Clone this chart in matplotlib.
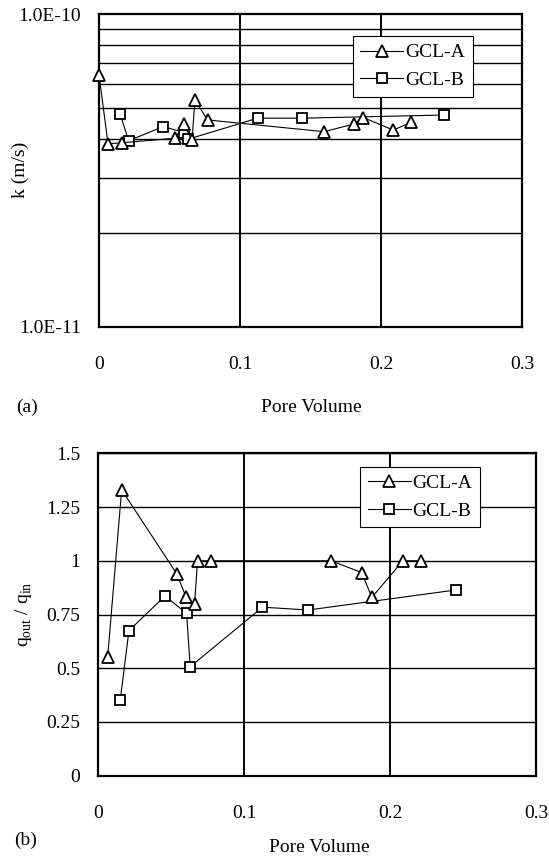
import matplotlib
matplotlib.use("Agg")
import matplotlib.pyplot as plt
from matplotlib.ticker import FixedLocator, NullFormatter

plt.rcParams['font.family'] = ['Liberation Serif', 'DejaVu Serif']
plt.rcParams['mathtext.fontset'] = 'custom'
plt.rcParams['mathtext.rm'] = 'Liberation Serif'

# GCL-A: pore volume, hydraulic conductivity, outflow/inflow ratio
a_pv = [0.0, 0.0064, 0.016, 0.054, 0.060, 0.066, 0.068, 0.077,
        0.1596, 0.1805, 0.1875, 0.2088, 0.2213]
a_k = [6.4e-11, 3.85e-11, 3.88e-11, 4.01e-11, 4.45e-11, 3.96e-11, 5.32e-11,
       4.59e-11, 4.21e-11, 4.45e-11, 4.67e-11, 4.26e-11, 4.51e-11]
a_pv_q = a_pv[1:]
a_q = [0.55, 1.33, 0.937, 0.833, 0.797, 1.0, 1.0, 1.0, 0.945, 0.83, 1.0, 1.0]

# GCL-B
b_pv = [0.015, 0.021, 0.0457, 0.0605, 0.063, 0.1125, 0.144, 0.245]
b_k = [4.8e-11, 3.94e-11, 4.37e-11, 4.18e-11, 3.98e-11, 4.65e-11, 4.65e-11, 4.76e-11]
b_q = [0.35, 0.675, 0.836, 0.756, 0.507, 0.784, 0.771, 0.864]

x_ticks = [0, 0.1, 0.2, 0.3]
x_ticklabels = ['0', '0.1', '0.2', '0.3']
q_ticks = [0, 0.25, 0.5, 0.75, 1, 1.25, 1.5]
q_ticklabels = ['0', '0.25', '0.5', '0.75', '1', '1.25', '1.5']

W, H = 549, 859
fig = plt.figure(figsize=(W / 100, H / 100), dpi=100)


def box(l, t, r, b):
    return [l / W, 1 - b / H, (r - l) / W, (b - t) / H]


ax1 = fig.add_axes(box(99, 14.3, 522, 326.7))
ax2 = fig.add_axes(box(98.3, 453.3, 536, 775.7))

style_a = dict(color='black', lw=0.8, marker='^', ms=8, mfc='white', mec='black',
               mew=1.3, clip_on=False)
style_b = dict(color='black', lw=0.8, marker='s', ms=6.5, mfc='white', mec='black',
               mew=1.3, clip_on=False)

# (a) hydraulic conductivity
ax1.set_yscale('log')
ax1.plot(a_pv, a_k, label='GCL-A', zorder=4, **style_a)
ax1.plot(b_pv, b_k, label='GCL-B', zorder=3, **style_b)
ax1.set_xlim(0, 0.3)
ax1.set_ylim(1e-11, 1e-10)
ax1.yaxis.set_major_locator(FixedLocator([1e-11, 1e-10]))
ax1.set_yticklabels(['1.0E-11', '1.0E-10'])
ax1.yaxis.set_minor_locator(FixedLocator([i * 1e-11 for i in range(2, 10)]))
ax1.yaxis.set_minor_formatter(NullFormatter())
ax1.grid(True, which='minor', axis='y', color='black', lw=1.0)

# (b) outflow / inflow
ax2.plot(a_pv_q, a_q, label='GCL-A', zorder=4, **style_a)
ax2.plot(b_pv, b_q, label='GCL-B', zorder=3, **style_b)
ax2.set_xlim(0, 0.3)
ax2.set_ylim(0, 1.5)
ax2.set_yticks(q_ticks)
ax2.set_yticklabels(q_ticklabels)
ax2.grid(True, which='major', axis='y', color='black', lw=1.0)

for ax in (ax1, ax2):
    ax.set_xticks(x_ticks)
    ax.set_xticklabels(x_ticklabels)
    ax.grid(True, which='major', axis='x', color='black', lw=1.4)
    ax.set_axisbelow(True)
    for s in ax.spines.values():
        s.set_linewidth(1.6)
    ax.tick_params(which='both', length=0, labelsize=14)
    ax.tick_params(axis='x', pad=21)
    ax.tick_params(axis='y', pad=13)

leg_kw = dict(loc='upper left', fontsize=14, frameon=True, fancybox=False,
              handlelength=2.2, handletextpad=0.1, borderpad=0.4,
              labelspacing=0.5, borderaxespad=0, framealpha=1)
l1 = ax1.legend(bbox_to_anchor=(0.5995, 0.9305), **leg_kw)
l2 = ax2.legend(bbox_to_anchor=(0.598, 0.958), **leg_kw)
for lg in (l1, l2):
    lg.get_frame().set_edgecolor('black')
    lg.get_frame().set_linewidth(0.8)
    lg.set_zorder(10)

fig.text(20 / W, 1 - 170 / H, 'k (m/s)', rotation=90, ha='center', va='center', fontsize=14)
fig.text(24 / W, 1 - 614 / H, r'q$_{\rm out}$ / q$_{\rm in}$', rotation=90,
         ha='center', va='center', fontsize=14)
fig.text(311 / W, 1 - 407 / H, 'Pore Volume', ha='center', va='center', fontsize=14)
fig.text(319 / W, 1 - 847 / H, 'Pore Volume', ha='center', va='center', fontsize=14)
fig.text(16 / W, 1 - 407 / H, '(a)', ha='left', va='center', fontsize=14)
fig.text(14 / W, 1 - 840 / H, '(b)', ha='left', va='center', fontsize=14)

fig.savefig('out.png', dpi=100)
